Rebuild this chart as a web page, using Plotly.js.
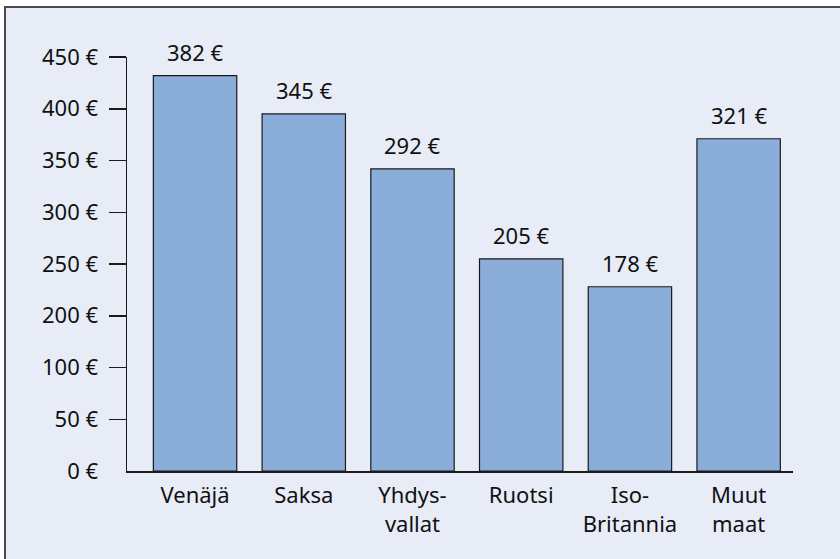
<!DOCTYPE html>
<html>
<head>
<meta charset="utf-8">
<script src="https://cdn.plot.ly/plotly-3.0.1.min.js"></script>
<style>
  html, body { margin: 0; padding: 0; background: #ffffff; }
  #frame { position: absolute; left: 4px; top: 6px; width: 836px; height: 553px;
           background: #E8ECF7; border-top: 2px solid #4a4a4a; border-left: 2px solid #4a4a4a; box-sizing: border-box; }
  #chart { position: absolute; left: 0; top: 0; width: 840px; height: 559px; }
</style>
</head>
<body>
<div id="frame"></div>
<div id="chart"></div>
<script>
const categories = ['Venäjä', 'Saksa', 'Yhdys-<br>vallat', 'Ruotsi', 'Iso-<br>Britannia', 'Muut<br>maat'];
const values = [382, 345, 292, 205, 178, 321];
const valueLabels = ['382 €', '345 €', '292 €', '205 €', '178 €', '321 €'];
const yTickVals = [0, 50, 100, 150, 200, 250, 300, 350, 400];
const yTickText = ['0 €', '50 €', '100 €', '200 €', '250 €', '300 €', '350 €', '400 €', '450 €'];
const yTickMarkVals = [50, 100, 150, 200, 250, 300, 350, 400];

const FONT = '"Noto Sans", "Open Sans", sans-serif';
const FS = 22;

const barTrace = {
  type: 'bar',
  x: categories,
  y: values,
  marker: { color: '#8BADDA', line: { color: '#1a1a1a', width: 1.2 } },
  hoverinfo: 'skip',
  cliponaxis: false
};

// empty helper trace so that the tick-mark axis (y2) is drawn
const tickAxisTrace = {
  type: 'scatter', mode: 'none',
  x: [categories[0]], y: [0],
  yaxis: 'y2', hoverinfo: 'skip', showlegend: false
};

const annotations = categories.map((c, i) => ({
  x: c, y: values[i], xref: 'x', yref: 'y',
  text: valueLabels[i], showarrow: false,
  yanchor: 'bottom', xanchor: 'center', yshift: 7,
  font: { family: FONT, size: FS, color: '#111111' }
}));

const layout = {
  width: 840, height: 559,
  margin: { l: 127.3, r: 47.3, t: 57.3, b: 88, pad: 0 },
  paper_bgcolor: 'rgba(0,0,0,0)',
  plot_bgcolor: 'rgba(0,0,0,0)',
  showlegend: false,
  bargap: 0.233,
  font: { family: FONT, size: FS, color: '#111111' },
  xaxis: {
    type: 'category', range: [-0.626, 5.5],
    showline: true, linecolor: '#1a1a1a', linewidth: 1.5,
    ticks: 'outside', ticklen: 4, tickcolor: 'rgba(0,0,0,0)',
    showgrid: false, zeroline: false,
    tickfont: { family: FONT, size: FS, color: '#111111' }
  },
  yaxis: {
    range: [0, 400], fixedrange: true,
    tickmode: 'array', tickvals: yTickVals, ticktext: yTickText,
    showline: true, linecolor: '#1a1a1a', linewidth: 1.5,
    ticks: 'outside', ticklen: 17, tickcolor: 'rgba(0,0,0,0)',
    ticklabelstandoff: 6,
    showgrid: false, zeroline: false,
    tickfont: { family: FONT, size: FS, color: '#111111' }
  },
  yaxis2: {
    overlaying: 'y', side: 'left', anchor: 'x', range: [0, 400],
    tickmode: 'array', tickvals: yTickMarkVals,
    showticklabels: false, ticks: 'outside', ticklen: 17,
    tickcolor: '#1a1a1a', tickwidth: 1.5,
    showline: false, showgrid: false, zeroline: false
  },
  annotations: annotations
};

Plotly.newPlot('chart', [barTrace, tickAxisTrace], layout, { staticPlot: true, displayModeBar: false });
</script>
</body>
</html>
